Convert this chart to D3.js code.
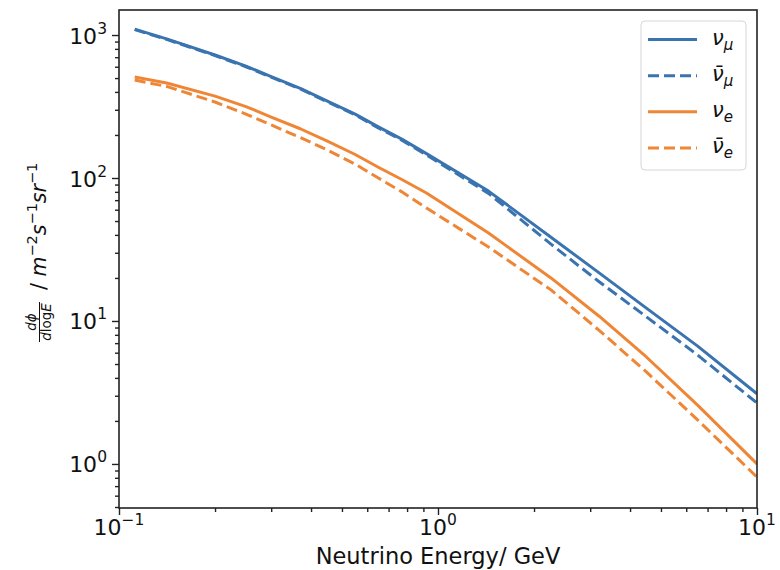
<!DOCTYPE html>
<html><head><meta charset="utf-8">
<script src="https://cdn.jsdelivr.net/npm/d3@7"></script>
<style>body{margin:0;background:#fff;} text{font-family:"DejaVu Sans",sans-serif;}</style>
</head><body>
<svg id="c" width="780" height="570"></svg>
<script>
// Data
const energies = [0.112, 0.141, 0.2, 0.25, 0.3, 0.37, 0.45, 0.55, 0.65, 0.77, 0.92, 1.44, 2.26, 3.2, 4.5, 6.5, 10];
const numu     = [1100, 940, 725, 606, 512, 424, 345, 280, 228, 187, 148, 81, 38.5, 21.7, 12.3, 6.7, 3.1];
const numubar  = [1090, 932, 718, 600, 507, 420, 341, 277, 224, 184, 145, 78, 34.5, 18.8, 10.7, 5.8, 2.67];
const nue      = [508, 462, 374, 316, 267, 221, 181, 146, 119, 97.6, 78.5, 41.2, 20, 10.8, 5.6, 2.59, 1.0];
const nuebar   = [484, 437, 340, 280, 235, 192, 157, 125, 100, 80, 61.7, 32.9, 16.5, 8.6, 4.4, 2.04, 0.81];
const seriesNames = ["numu", "numubar", "nue", "nuebar"];
const xTicks = [0.1, 1, 10];
const xTickExp = ["\u22121", "0", "1"];
const yTicks = [1, 10, 100, 1000];
const yTickExp = ["0", "1", "2", "3"];

const series = [
  {key: "numu", values: numu, color: "#3a74b0", dash: null, bar: false, sub: "\u03bc"},
  {key: "numubar", values: numubar, color: "#3a74b0", dash: "11,5", bar: true, sub: "\u03bc"},
  {key: "nue", values: nue, color: "#ef8636", dash: null, bar: false, sub: "e"},
  {key: "nuebar", values: nuebar, color: "#ef8636", dash: "11,5", bar: true, sub: "e"}
];

const L = 119, R = 757, T = 10, B = 508;
const svg = d3.select("#c");
const x = d3.scaleLog().domain([0.1, 10]).range([L, R]);
const y = d3.scaleLog().domain([Math.pow(10, -0.308), Math.pow(10, 3.175)]).range([B, T]);

svg.append("clipPath").attr("id", "clip").append("rect")
  .attr("x", L).attr("y", T).attr("width", R - L).attr("height", B - T);

const line = d3.line().x(d => x(d[0])).y(d => y(d[1]));
const g = svg.append("g").attr("clip-path", "url(#clip)");
series.forEach(s => {
  g.append("path")
    .datum(energies.map((e, i) => [e, s.values[i]]))
    .attr("d", line)
    .attr("fill", "none")
    .attr("stroke", s.color)
    .attr("stroke-width", 3)
    .attr("stroke-linejoin", "round")
    .attr("stroke-dasharray", s.dash);
});

// frame
svg.append("rect").attr("x", L).attr("y", T).attr("width", R - L).attr("height", B - T)
  .attr("fill", "none").attr("stroke", "#222").attr("stroke-width", 1.6);

// x ticks
const xMinor = [];
[0.1, 1].forEach(b => { for (let k = 2; k <= 9; k++) xMinor.push(b * k); });
const xa = svg.append("g").attr("transform", `translate(0,${B})`)
  .call(d3.axisBottom(x).tickValues(xMinor).tickSize(4).tickFormat(""));
const xb = svg.append("g").attr("transform", `translate(0,${B})`)
  .call(d3.axisBottom(x).tickValues(xTicks).tickSize(7).tickFormat(""));
[xa, xb].forEach(a => { a.select(".domain").remove(); a.selectAll("line").attr("stroke", "#222").attr("stroke-width", 1.4); });

xTicks.forEach((v, i) => {
  const t = svg.append("text").attr("x", x(v)).attr("y", 535).attr("text-anchor", "middle")
    .attr("font-size", 22).attr("fill", "#111");
  t.append("tspan").text("10");
  t.append("tspan").attr("dy", -10).attr("font-size", 15.5).text(xTickExp[i]);
});

// y ticks
const yMinor = [];
[0.1, 1, 10, 100, 1000].forEach(b => { for (let k = 2; k <= 9; k++) { const v = b * k; if (y(v) <= B && y(v) >= T) yMinor.push(v); } });
const ya = svg.append("g").attr("transform", `translate(${L},0)`)
  .call(d3.axisLeft(y).tickValues(yMinor).tickSize(4).tickFormat(""));
const yb = svg.append("g").attr("transform", `translate(${L},0)`)
  .call(d3.axisLeft(y).tickValues(yTicks).tickSize(7).tickFormat(""));
[ya, yb].forEach(a => { a.select(".domain").remove(); a.selectAll("line").attr("stroke", "#222").attr("stroke-width", 1.4); });

yTicks.forEach((v, i) => {
  const t = svg.append("text").attr("x", 107).attr("y", y(v) + 8.5).attr("text-anchor", "end")
    .attr("font-size", 22).attr("fill", "#111");
  t.append("tspan").text("10");
  t.append("tspan").attr("dy", -10).attr("font-size", 15.5).text(yTickExp[i]);
});

// x label
svg.append("text").attr("x", (L + R) / 2).attr("y", 564).attr("text-anchor", "middle")
  .attr("font-size", 22.5).attr("fill", "#111").text("Neutrino Energy/ GeV");

// y label (rotated)
const yl = svg.append("g").attr("transform", "translate(46,342) rotate(-90)");
yl.append("text").attr("x", 20).attr("y", -10).attr("text-anchor", "middle")
  .attr("font-size", 13.5).attr("font-style", "italic").attr("fill", "#111").text("d\u03d5");
yl.append("line").attr("x1", 0).attr("x2", 40).attr("y1", -6.5).attr("y2", -6.5)
  .attr("stroke", "#111").attr("stroke-width", 1);
yl.append("text").attr("x", 20).attr("y", 5).attr("text-anchor", "middle")
  .attr("font-size", 13.5).attr("fill", "#111")
  .call(t => { t.append("tspan").attr("font-style", "italic").text("d"); t.append("tspan").text("log"); t.append("tspan").attr("font-style", "italic").text("E"); });
const mt = yl.append("text").attr("x", 52).attr("y", 0).attr("font-size", 20.5).attr("fill", "#111");
mt.append("tspan").text("/ ");
mt.append("tspan").attr("font-style", "italic").text("m");
mt.append("tspan").attr("dy", -9).attr("font-size", 14.5).text("\u22122");
mt.append("tspan").attr("dy", 9).attr("font-style", "italic").text("s");
mt.append("tspan").attr("dy", -9).attr("font-size", 14.5).text("\u22121");
mt.append("tspan").attr("dy", 9).attr("font-style", "italic").text("sr");
mt.append("tspan").attr("dy", -9).attr("font-size", 14.5).text("\u22121");

// legend
const lg = svg.append("g");
lg.append("rect").attr("x", 641).attr("y", 21).attr("width", 105).attr("height", 149)
  .attr("rx", 4).attr("fill", "#fff").attr("fill-opacity", 0.85)
  .attr("stroke", "#d6d6d6").attr("stroke-width", 1);
const ly = d3.scalePoint().domain(seriesNames).range([39.5, 148]);
series.forEach(s => {
  const yy = ly(s.key);
  lg.append("line").attr("x1", 648).attr("x2", 697).attr("y1", yy).attr("y2", yy)
    .attr("stroke", s.color).attr("stroke-width", 3).attr("stroke-dasharray", s.dash);
  const t = lg.append("text").attr("x", 712).attr("y", yy + 5).attr("font-size", 21)
    .attr("font-style", "italic").attr("fill", "#111");
  t.append("tspan").text(s.bar ? "\u03bd\u0304" : "\u03bd");
  t.append("tspan").attr("dy", 5).attr("font-size", 15).text(s.sub);
});
</script>
</body></html>
